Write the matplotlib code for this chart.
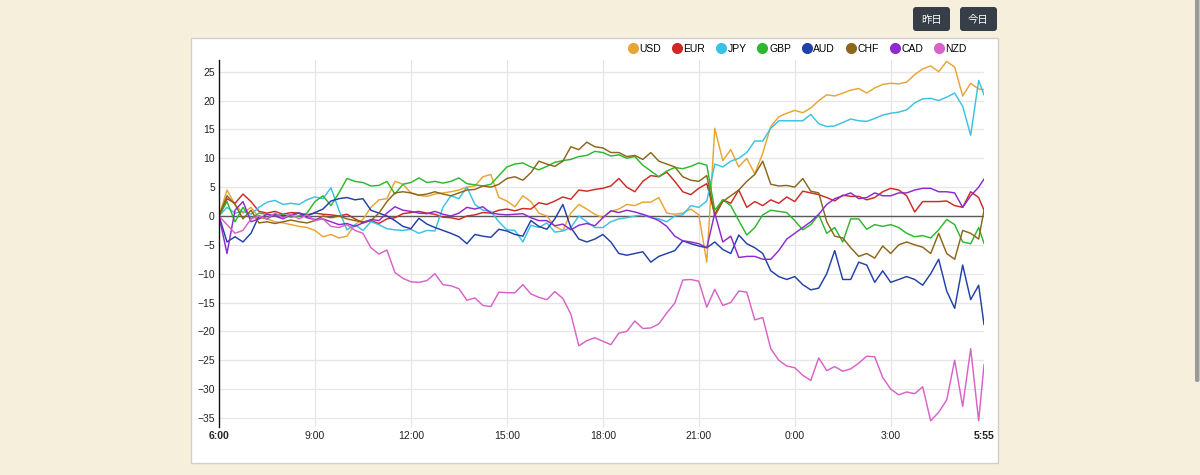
import matplotlib

matplotlib.use("Agg")
import matplotlib.pyplot as plt
import numpy as np
from matplotlib.lines import Line2D
from matplotlib.patches import FancyBboxPatch

BACKGROUND = "#F5EFDC"
PANEL_EDGE = "#D0D0D0"
GRID = "#E6E6E6"
BUTTON = "#363E48"
CJK = ["Noto Sans CJK JP", "DejaVu Sans"]
FONT = "Liberation Sans"

# minutes after 6:00, every 15 minutes, last sample at 5:55
MINUTES = [*range(0, 1440, 15), 1435]

XTICK_MINUTES = [0, 180, 360, 540, 720, 900, 1080, 1260, 1435]
XTICK_LABELS = ["6:00", "9:00", "12:00", "15:00", "18:00", "21:00", "0:00", "3:00", "5:55"]
YTICKS = [-35, -30, -25, -20, -15, -10, -5, 0, 5, 10, 15, 20, 25]

USD = [0, 4.5, 2, 0.5, 1.5, -0.3, -0.5, -1, -1.2, -1.5, -1.8, -2,
       -2.5, -3.6, -3.2, -3.8, -3.5, -1.5, -0.6, 1.5, 2.8, 3, 6, 5.5,
       4, 3.6, 3.4, 3.8, 4, 4.2, 4.5, 5, 5.2, 6.8, 7.2, 3.2,
       2.6, 1.6, 3.5, 2.5, 0.5, 0, -1.8, -2.5, 0.5, 2, 1.2, 0.3,
       -0.3, 0.8, 1.2, 2, 1.8, 2.4, 2.4, 3.2, 0.5, 0.3, 0.5, 1.2,
       0.2, -8, 15.2, 9.6, 11.5, 8.5, 10, 7.3, 10.9, 15.5, 17.2, 17.8,
       18.3, 17.9, 18.7, 20, 21, 20.8, 21.3, 21.8, 22.1, 21.3, 22.2, 22.8,
       23, 22.9, 23.2, 24.5, 25.5, 26, 25, 26.8, 25.8, 20.8, 23, 22,
       21.9]
EUR = [0, 3, 2.2, 3.8, 2.5, 0.8, 0.5, 0.8, 0.3, 0.6, 0.5, 0.2,
       0.5, 0.3, 0.2, 0, 0.3, -0.5, -1.2, -0.8, -1.3, -0.5, -0.3, 0.4,
       0.6, 0.8, 0.5, 0.3, -0.2, -0.3, -0.6, 0, 0.2, 0.6, 0.5, 1,
       1.2, 0.9, 1.3, 1.2, 2.3, 2, 2.6, 3.3, 2.9, 4.5, 4.3, 4.6,
       4.8, 5.2, 6.5, 5, 4.2, 6, 7, 6.8, 7.6, 6, 4.2, 3.7,
       4.8, 5.6, 0.3, 2.8, 2.2, 4.5, 1.5, 2.5, 1.8, 2.8, 2.2, 3.3,
       2.5, 4.3, 4, 3.7, 3.2, 2.6, 3.6, 3.4, 3.4, 2.8, 3.2, 4.2,
       4.8, 4.5, 3.5, 0.7, 2.5, 2.5, 2.5, 2.6, 1.8, 1.5, 4.2, 3.2,
       1]
JPY = [0, 1.5, 0.5, 0.8, 0.3, 1.5, 2.4, 2.7, 2, 2.2, 2, 2.8,
       3.3, 3, 4.9, 1, -2.4, -1.5, -2.5, -1, -1.5, -2.2, -2.4, -2.5,
       -2.3, -3, -2.5, -2.6, 1.5, 3.5, 3, 5, 2, 1, 0.8, -1,
       -2.4, -2.5, -4.5, -1.6, -2, -1.2, -2.8, -2.6, -2, 0, -1, -2,
       -2, -1, -0.5, -0.3, 0, 0.2, -0.3, -0.5, -1, 0, 0.2, 1.8,
       1.5, 2.6, 9, 8.5, 9.5, 10, 11, 13, 13, 15.2, 16.5, 16.5,
       16.5, 16.5, 17.6, 16, 15.5, 15.6, 16.2, 16.8, 16.5, 16.4, 16.9, 17.5,
       17.8, 18, 18.4, 19.6, 20.3, 20.4, 20, 20.6, 21.3, 19, 14, 23.5,
       21]
GBP = [0, 2.5, -1, 1.5, -0.5, 0.5, 0.3, 0, 0.2, -0.2, 0, 0.5,
       2.5, 3.5, 1.8, 4, 6.5, 6, 5.8, 5.2, 5.3, 6, 3.8, 5.5,
       5.8, 6.6, 5.8, 6, 5.7, 6, 6.6, 5.6, 5.4, 5.2, 5.5, 7,
       8.5, 9, 9.2, 8.5, 8, 8.6, 9.3, 9.6, 9.8, 10.3, 10.5, 11.2,
       11, 10.4, 10.6, 10, 10.3, 8.8, 7.8, 6.8, 7.8, 8.4, 8.2, 8.6,
       9.2, 8.8, 1, 2.8, 1.8, -0.8, -3.3, -2, 0.2, 1, 0.8, 0.6,
       -0.8, -2.4, -1.5, 0.2, -3, -2, -4.5, -0.5, -0.5, -2.3, -1.5, -1.8,
       -1.5, -2, -3, -3.6, -3.4, -3.8, -2.4, -0.6, -1.5, -4.5, -4.8, -2,
       -4.7]
AUD = [0, -4.5, -3.6, -4.5, -3, 0, -0.5, 0.3, 0, 0.2, 0.5, 0,
       0.6, 1.2, 2.6, 3, 3.2, 2.8, 3, 1, 0.5, 0, -0.8, -1.8,
       -2.2, -0.4, -1.4, -2, -2.5, -3, -3.6, -4.8, -3.2, -3.5, -3.7, -2.3,
       -2.6, -3.2, -3.5, -0.8, -1.8, -2.3, -0.5, 2, -2, -4, -4.5, -4,
       -3.2, -4.5, -6.5, -6.8, -6.5, -6.2, -8, -7, -6.5, -6, -4.3, -4.8,
       -5.2, -5.5, -4.5, -5.8, -6.5, -3.3, -4.8, -5.5, -6.5, -9.5, -10.5, -11,
       -10.5, -11.9, -12.8, -12.5, -10, -6, -11, -11, -8, -8.5, -11.5, -9.5,
       -11.5, -11, -10.5, -11, -12, -10, -7.5, -13, -16, -8.5, -14.5, -12,
       -18.8]
CHF = [0, 3.5, 2, -0.5, 1, -1.2, -1, -1.3, -1, -0.7, -1, -1.2,
       -0.8, 0, -0.3, 0, -0.5, -0.8, -1, -0.8, 0.5, 2.5, 4, 4.2,
       4, 3.6, 3.8, 4.2, 3.8, 3.5, 4, 4.5, 4.6, 5.2, 5, 5.5,
       6.5, 6.8, 6.2, 7.5, 9.5, 9, 8.6, 9.5, 12, 11.5, 12.8, 12,
       11.8, 11, 11, 10.3, 10.5, 9.8, 11, 9.5, 9, 8.5, 6.8, 6.2,
       6, 7, 0, 2.5, 3.5, 4.5, 6, 7.2, 9.5, 5.5, 5.2, 5.3,
       5, 6.5, 4.3, 4, -1, -3.5, -3.8, -5.5, -7, -6.5, -7.3, -5.2,
       -6.5, -5, -4.5, -5, -5.4, -6.5, -3, -6.5, -7.5, -2.5, -3, -4,
       1]
CAD = [0, -6.5, 1, 2.5, -1, -0.5, 0.3, 0, -0.5, 0.2, 0.5, -0.3,
       -0.6, -0.5, -1, -1.5, -1.3, -1.8, -1.2, -0.6, -0.8, 0.5, 1.6, 1,
       0.8, 0.5, 0.4, 0.8, 0.3, 0, 0.5, 1.5, 1.2, 1.6, 0.5, 0.3,
       0.2, 0.3, 0.4, -0.3, -0.8, -0.8, -1.7, -1.4, -2.4, -1.6, -1.3, -1.7,
       -0.3, 0.9, 0.6, 1, 0.7, 0.3, -0.2, -0.8, -1.8, -3.5, -4.3, -4.5,
       -4.8, -5.5, 0.5, -4.5, -3.5, -7.2, -7, -7, -7.5, -7.5, -6, -4,
       -3, -2, -1, 0.3, 2, 3, 3.5, 4, 3, 3.2, 4, 3.5,
       3.5, 4, 4, 4.5, 4.8, 4.8, 4.2, 4.2, 4, 1.5, 3.5, 5,
       6.4]
NZD = [0, -1.5, -3, -2.5, -0.5, 0, -0.5, 0.5, -0.3, 0.3, -0.5, 0.2,
       -0.8, -0.5, -1.8, -2, -1.5, -2.5, -3, -5.5, -6.6, -5.9, -9.8, -10.8,
       -11.4, -11.5, -11.2, -10, -11.9, -12.1, -12.6, -14.6, -14.2, -15.5, -15.7, -13.2,
       -13.3, -13.3, -11.9, -13.5, -14.1, -14.5, -13.1, -14.3, -17, -22.5, -21.6, -21.1,
       -21.7, -22.3, -20.3, -20, -18.2, -19.5, -19.4, -18.7, -16.8, -15.1, -11.1, -11,
       -11.3, -15.8, -12.7, -15.5, -15, -13, -13.2, -18, -17.6, -23, -25, -26,
       -26.3, -27.6, -28.5, -24.6, -26.8, -26.1, -26.9, -26.5, -25.5, -24.3, -24.4, -28,
       -30, -31, -30.5, -30.8, -29.6, -35.5, -34, -31.9, -25, -33, -23, -35.5,
       -25.8]

CURRENCIES = ["USD", "EUR", "JPY", "GBP", "AUD", "CHF", "CAD", "NZD"]
VALUES = [USD, EUR, JPY, GBP, AUD, CHF, CAD, NZD]
COLORS = ["#E8A535", "#CD2A24", "#3AC2E4", "#2DB82D", "#2140A8", "#8C661A", "#8E2ACF", "#D862C9"]


def draw_frame(fig):
    # page furniture in pixel coordinates
    page = fig.add_axes([0, 0, 1, 1], zorder=0)
    page.set_xlim(0, 1200)
    page.set_ylim(475, 0)
    page.axis("off")
    page.add_patch(FancyBboxPatch((191, 38), 807, 425, boxstyle="square,pad=0",
                                  facecolor="white", edgecolor=PANEL_EDGE, linewidth=1))
    for left, label in [(913, "昨日"), (960, "今日")]:
        page.add_patch(FancyBboxPatch((left, 7), 37, 24, boxstyle="round,pad=0,rounding_size=3",
                                      facecolor=BUTTON, edgecolor="none"))
        page.text(left + 18.5, 19.5, label, ha="center", va="center", color="white",
                  fontsize=7.5, family=CJK)
    page.add_patch(FancyBboxPatch((1195, -6), 4.5, 388, boxstyle="round,pad=0,rounding_size=2",
                                  facecolor="#9A9A9A", edgecolor="none"))


def draw_chart():
    fig = plt.figure(figsize=(12, 4.75), dpi=100, facecolor=BACKGROUND)
    draw_frame(fig)

    ax = fig.add_axes([219 / 1200, 1 - 426.6 / 475, 765 / 1200, 366.4 / 475], zorder=1)
    ax.set_facecolor("none")
    hours = np.array(MINUTES) / 60

    for h in XTICK_MINUTES[1:-1]:
        ax.axvline(h / 60, color=GRID, linewidth=0.9, zorder=0)
    for y in YTICKS:
        ax.axhline(y, color=GRID, linewidth=0.9, zorder=0)
    ax.axhline(0, color="#5A5A5A", linewidth=1.0, zorder=1)

    for name, values, color in zip(CURRENCIES, VALUES, COLORS):
        ax.plot(hours, values, color=color, linewidth=1.05, label=name, zorder=2)

    ax.set_xlim(0, 1435 / 60)
    ax.set_ylim(-36.5, 27)
    ax.set_xticks(np.array(XTICK_MINUTES) / 60, XTICK_LABELS)
    ax.set_yticks(YTICKS)
    ax.tick_params(length=0, labelsize=7.5, colors="#222222", pad=3)
    for label in ax.get_xticklabels() + ax.get_yticklabels():
        label.set_family(FONT)
    xlabels = ax.get_xticklabels()
    xlabels[0].set_fontweight("bold")
    xlabels[-1].set_fontweight("bold")

    for side in ["top", "right", "bottom"]:
        ax.spines[side].set_visible(False)
    ax.spines["left"].set_color("#111111")
    ax.spines["left"].set_linewidth(1.0)

    handles = [Line2D([], [], marker="o", linestyle="", color=c, markersize=7) for c in COLORS]
    fig.legend(handles, CURRENCIES, loc="center right", bbox_to_anchor=(967 / 1200, 1 - 49 / 475),
               ncol=8, frameon=False, prop={"family": FONT, "size": 7.5},
               handletextpad=0.15, columnspacing=1.0, handlelength=1.0,
               borderpad=0, borderaxespad=0)

    fig.savefig("out.png", dpi=100, facecolor=BACKGROUND)
    plt.close(fig)


if __name__ == "__main__":
    draw_chart()
